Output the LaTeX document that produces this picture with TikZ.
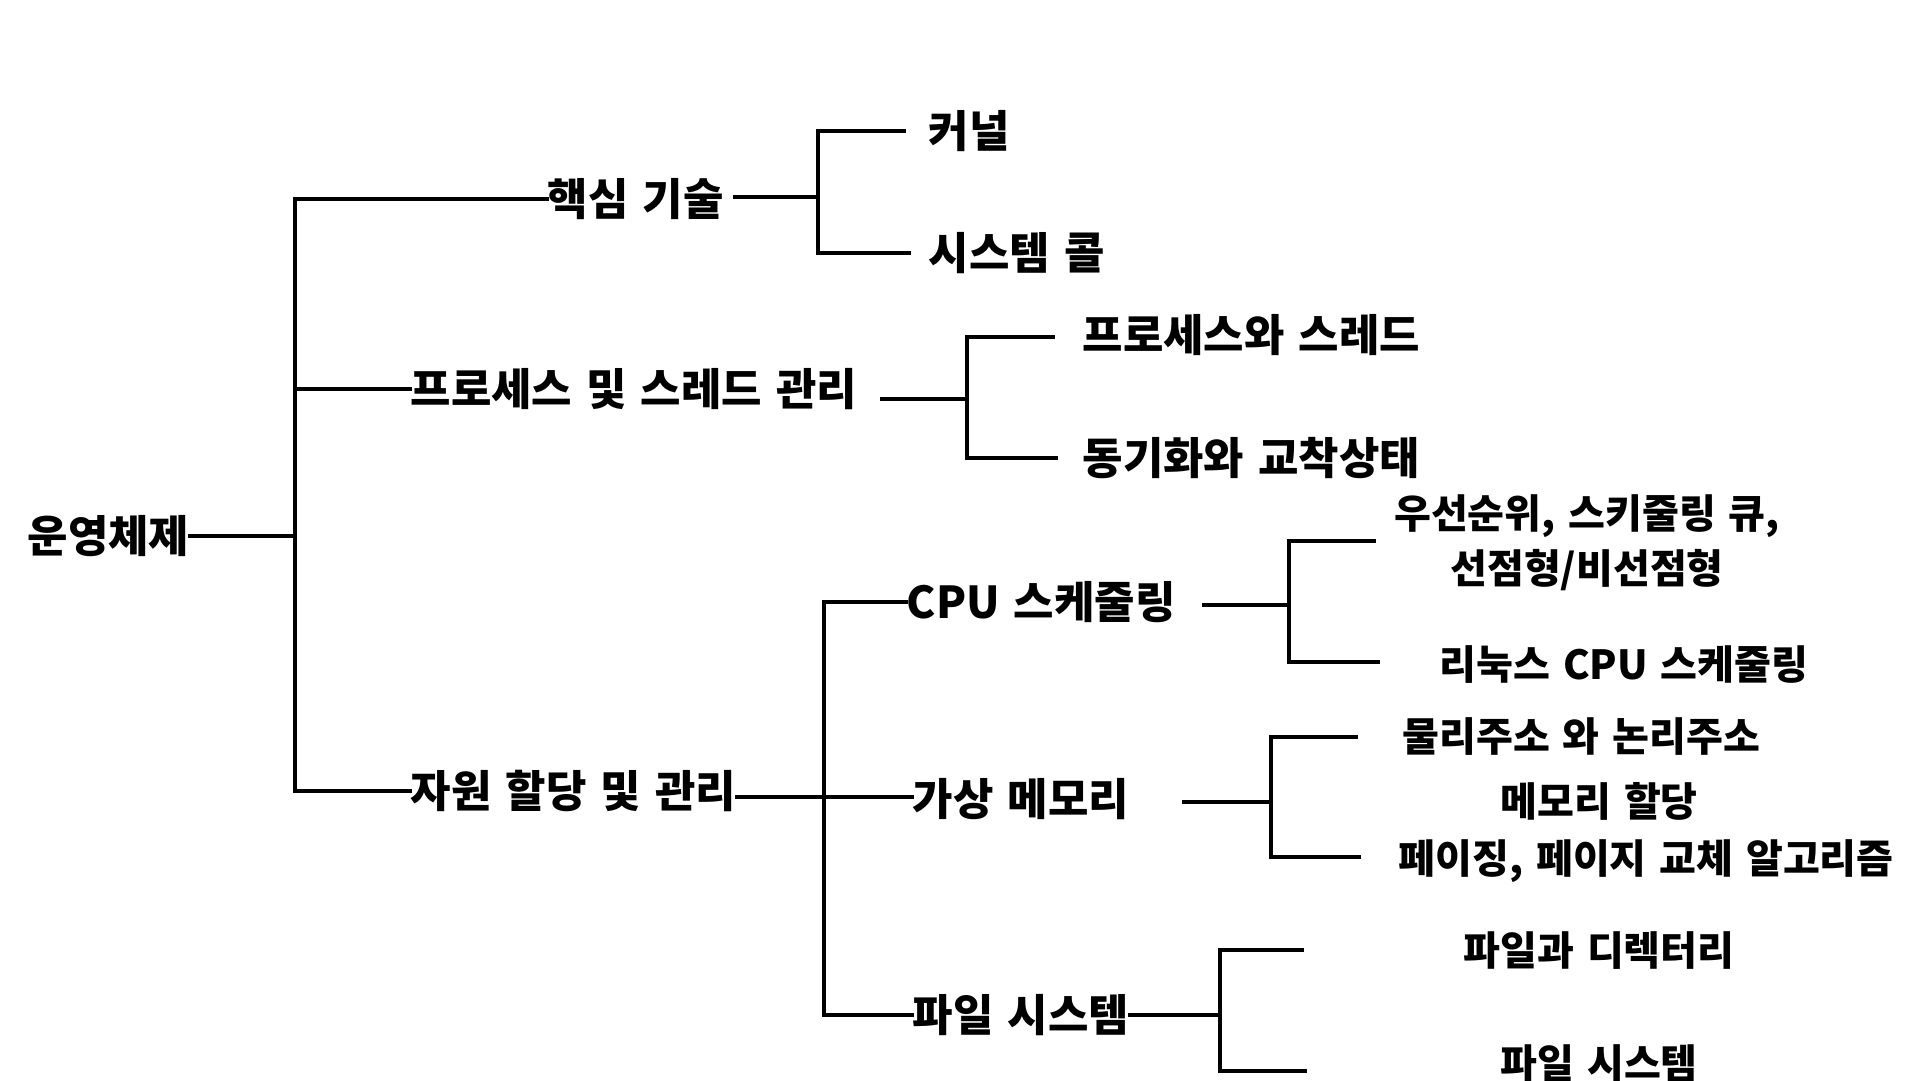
\documentclass[tikz,border=0pt]{standalone}
\usepackage{fontspec}
\newfontfamily\kr{Noto Sans CJK KR}[BoldFont={Noto Sans CJK KR Black},WordSpace=1.4]
\usetikzlibrary{calc}
\begin{document}
\begin{tikzpicture}[x=0.1mm,y=-0.1mm,
  lbl/.style={anchor=west,inner sep=0pt,font=\kr\bfseries\fontsize{12.5pt}{15.6pt}\selectfont,text height=0.96em,text depth=0.04em},
  sublbl/.style={lbl,font=\kr\bfseries\fontsize{11.4pt}{15.6pt}\selectfont},
  conn/.style={line width=1pt,line cap=rect}]
\useasboundingbox[fill=white] (0,0) rectangle (1920,1080);
% nodes
\node[lbl] (root) at (27,536) {운영체제};
\node[lbl] (h1) at (547,199) {핵심 기술};
\node[lbl] (h2) at (410,389) {프로세스 및 스레드 관리};
\node[lbl] (h3) at (410,791) {자원 할당 및 관리};
\node[lbl] (k1) at (928,131) {커널};
\node[lbl] (k2) at (928,253) {시스템 콜};
\node[lbl] (s1) at (1082,335) {프로세스와 스레드};
\node[lbl] (s2) at (1082,458) {동기화와 교착상태};
\node[lbl] (c1) at (906,602) {CPU 스케줄링};
\node[lbl] (v1) at (912,799) {가상 메모리};
\node[lbl] (f1) at (912,1015) {파일 시스템};
\node[sublbl,anchor=center,align=center,text height=,text depth=] (cp1) at (1587,543) {우선순위, 스키줄링 큐,\\선점형/비선점형};
\node[sublbl] (cp2) at (1439,663) {리눅스 CPU 스케줄링};
\node[sublbl] (vm1) at (1402,735) {물리주소 와 논리주소};
\node[sublbl] (vm2) at (1500,800) {메모리 할당};
\node[sublbl] (vm3) at (1398,857) {페이징, 페이지 교체 알고리즘};
\node[sublbl] (fs1) at (1463,949) {파일과 디렉터리};
\node[sublbl] (fs2) at (1500,1062) {파일 시스템};
% junction coordinates
\coordinate (tA) at (295,199);
\coordinate (tB) at (295,389);
\coordinate (tR) at (295,536);
\coordinate (tC) at (295,791);
\coordinate (j1) at (818,197);
\coordinate (j1a) at (818,131);
\coordinate (j1b) at (818,253);
\coordinate (j1s) at (735,197);
\coordinate (j2) at (967,399);
\coordinate (j2a) at (967,337);
\coordinate (j2b) at (967,458);
\coordinate (j2s) at (882,399);
\coordinate (j3) at (824,797);
\coordinate (j3a) at (824,602);
\coordinate (j3b) at (824,1015);
\coordinate (jc) at (1289,605);
\coordinate (jca) at (1289,541);
\coordinate (jcb) at (1289,662);
\coordinate (jcs) at (1204,605);
\coordinate (jv) at (1271,802);
\coordinate (jva) at (1271,737);
\coordinate (jvb) at (1271,857);
\coordinate (jvs) at (1184,802);
\coordinate (jf) at (1220,1015);
\coordinate (jfa) at (1220,950);
\coordinate (jfb) at (1220,1071);
\coordinate (ek1) at (904,131);
\coordinate (ek2) at (909,253);
\coordinate (es1) at (1053,337);
\coordinate (es2) at (1056,458);
\coordinate (ec1) at (1374,541);
\coordinate (ec2) at (1378,662);
\coordinate (ev1) at (1356,737);
\coordinate (ev2) at (1359,857);
\coordinate (ef1) at (1302,950);
\coordinate (ef2) at (1305,1071);
% connectors
\draw[conn] (root.east) -- (tR);
\draw[conn] (tA) -- (tC);
\draw[conn] (tA) -- (h1.west);
\draw[conn] (tB) -- (h2.west);
\draw[conn] (tC) -- (h3.west);
\draw[conn] (j1s) -- (j1);
\draw[conn] (j1a) -- (j1b);
\draw[conn] (j1a) -- (ek1);
\draw[conn] (j1b) -- (ek2);
\draw[conn] (j2s) -- (j2);
\draw[conn] (j2a) -- (j2b);
\draw[conn] (j2a) -- (es1);
\draw[conn] (j2b) -- (es2);
\draw[conn] (h3.east |- j3) -- (v1.west |- j3);
\draw[conn] (j3a) -- (j3b);
\draw[conn] (j3a) -- (c1.west);
\draw[conn] (j3b) -- (f1.west);
\draw[conn] (jcs) -- (jc);
\draw[conn] (jca) -- (jcb);
\draw[conn] (jca) -- (ec1);
\draw[conn] (jcb) -- (ec2);
\draw[conn] (jvs) -- (jv);
\draw[conn] (jva) -- (jvb);
\draw[conn] (jva) -- (ev1);
\draw[conn] (jvb) -- (ev2);
\draw[conn] (f1.east) -- (jf);
\draw[conn] (jfa) -- (jfb);
\draw[conn] (jfa) -- (ef1);
\draw[conn] (jfb) -- (ef2);
\end{tikzpicture}
\end{document}
